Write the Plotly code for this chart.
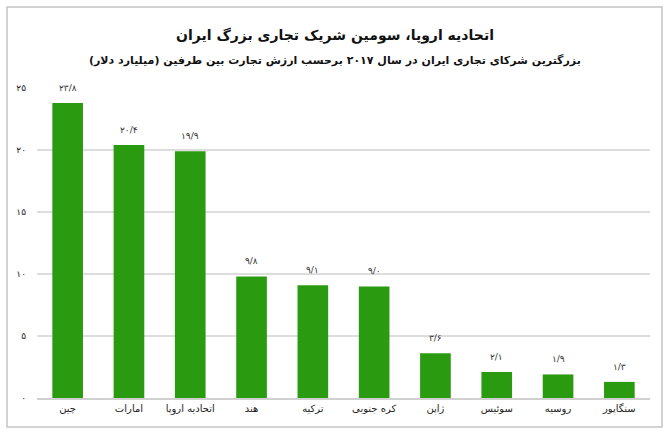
import plotly.graph_objects as go

categories = ["چین", "امارات", "اتحادیه اروپا", "هند", "ترکیه", "کره جنوبی", "ژاپن", "سوئیس", "روسیه", "سنگاپور"]
values = [23.8, 20.4, 19.9, 9.8, 9.1, 9.0, 3.6, 2.1, 1.9, 1.3]
tick_vals = [0, 5, 10, 15, 20, 25]
tick_text = ["۰", "۵", "۱۰", "۱۵", "۲۰", "۲۵"]

title = "اتحادیه اروپا، سومین شریک تجاری بزرگ ایران"
subtitle = "بزرگترین شرکای تجاری ایران در سال ۲۰۱۷ برحسب ارزش تجارت بین طرفین (میلیارد دلار)"

PD = str.maketrans("0123456789.", "۰۱۲۳۴۵۶۷۸۹/")
def fa(v):
    return f"{v:.1f}".translate(PD)

FONT = "DejaVu Sans"

fig = go.Figure()
fig.add_trace(go.Bar(
    x=categories, y=values,
    marker=dict(color="#2a9b10", line=dict(width=0)),
    width=0.5,
    hoverinfo="skip",
))

for c, v in zip(categories, values):
    fig.add_annotation(x=c, y=v, text=fa(v), showarrow=False, yanchor="bottom",
                       yshift=8, font=dict(family=FONT, size=9, color="#333333"))

fig.add_annotation(xref="paper", yref="paper", x=0.486, y=1.17, text="<b>" + title + "</b>",
                   showarrow=False, font=dict(family=FONT, size=14, color="#111111"),
                   xanchor="center", yanchor="middle")
fig.add_annotation(xref="paper", yref="paper", x=0.486, y=1.09, text="<b>" + subtitle + "</b>",
                   showarrow=False, font=dict(family=FONT, size=11, color="#111111"),
                   xanchor="center", yanchor="middle")

fig.add_shape(type="rect", xref="paper", yref="paper", x0=-0.0489, x1=1.0196, y0=-0.0935, y1=1.2613,
              line=dict(color="#c4c4c4", width=1.5), fillcolor="rgba(0,0,0,0)", layer="above")

fig.update_layout(
    width=667, height=433,
    margin=dict(l=37, r=17, t=88, b=35),
    paper_bgcolor="white", plot_bgcolor="white",
    showlegend=False,
    bargap=0.5,
    font=dict(family=FONT, color="#222222"),
    xaxis=dict(showgrid=False, showline=True, linecolor="#d0d0d0", linewidth=1.5,
               tickfont=dict(family=FONT, size=10, color="#222222"), ticks="", fixedrange=True),
    yaxis=dict(range=[0, 25], tickvals=tick_vals, ticktext=tick_text, showgrid=True,
               gridcolor="#dddddd", gridwidth=1.5, zeroline=False, showline=False,
               tickfont=dict(family=FONT, size=9, color="#222222"), ticks="",
               ticklabelstandoff=10, fixedrange=True),
)

fig.write_html("out.html", config={"displayModeBar": False},
               post_script="document.body.style.margin='0';document.body.style.padding='0';")
